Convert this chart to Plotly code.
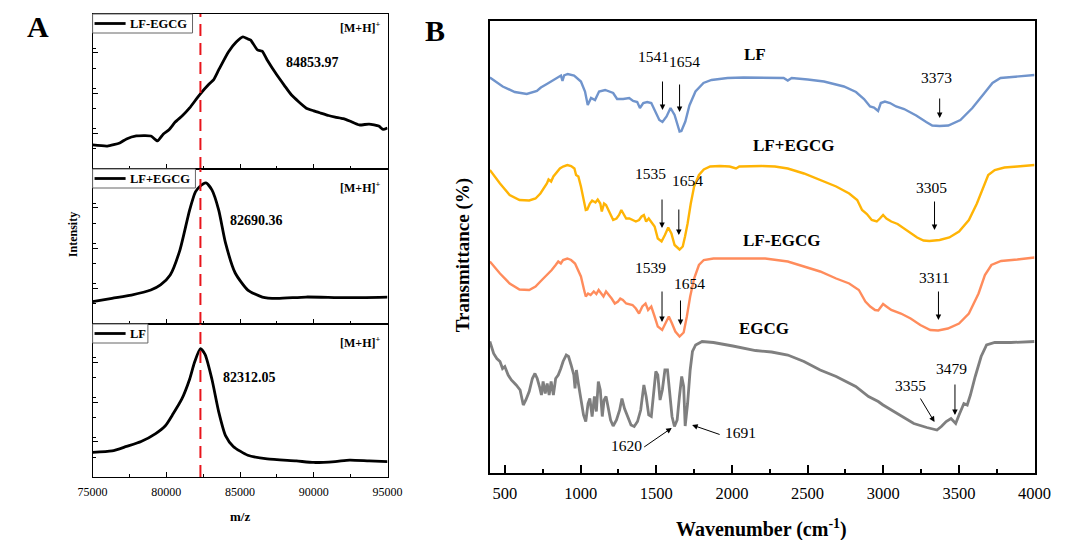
import plotly.graph_objects as go

# ---------------- Panel A data (MALDI-TOF) ----------------
MZ_LF_EGCG = [75000, 76000, 76840, 77300, 77960, 78950, 79400, 79800, 80200, 80600, 81100, 81580, 82240, 82900,
              83200, 83550, 84210, 84740, 85200, 85500, 85720, 86180, 86500, 86840, 87500, 88000, 88490, 89470,
              90000, 90460, 91000, 91450, 92000, 92430, 93090, 93750, 94410, 94700, 95000]
INT_LF_EGCG = [0.155, 0.148, 0.168, 0.194, 0.213, 0.213, 0.181, 0.226, 0.255, 0.303, 0.345, 0.394, 0.477, 0.548,
               0.575, 0.639, 0.755, 0.819, 0.852, 0.840, 0.832, 0.768, 0.760, 0.703, 0.606, 0.540, 0.477, 0.394,
               0.375, 0.361, 0.345, 0.335, 0.325, 0.310, 0.284, 0.290, 0.277, 0.255, 0.265]

MZ_LF_P_EGCG = [75000, 76316, 77632, 78947, 79605, 80263, 80921, 81579, 81974, 82237, 82690, 83092, 83553,
                84013, 84671, 85526, 86513, 87500, 89474, 92105, 95000]
INT_LF_P_EGCG = [0.144, 0.166, 0.187, 0.219, 0.252, 0.316, 0.477, 0.735, 0.852, 0.884, 0.910, 0.865, 0.735,
                 0.523, 0.329, 0.219, 0.174, 0.165, 0.174, 0.170, 0.174]

MZ_LF = [75000, 76316, 77303, 78289, 79276, 79934, 80461, 81053, 81579, 81908, 82312, 82632, 83092, 83553,
         84013, 84539, 85526, 86842, 88816, 90000, 91447, 92434, 93750, 95000]
INT_LF = [0.161, 0.170, 0.200, 0.232, 0.284, 0.335, 0.413, 0.510, 0.639, 0.748, 0.839, 0.800, 0.639, 0.426,
          0.271, 0.200, 0.142, 0.118, 0.105, 0.095, 0.101, 0.110, 0.105, 0.101]

REF_MZ = [82312]
PEAK_LABELS = ["84853.97", "82690.36", "82312.05"]
A_NAMES = ["LF-EGCG", "LF+EGCG", "LF"]
A_TICKS = [75000, 80000, 85000, 90000, 95000]

# ---------------- Panel B data (FTIR) ----------------
LF_WN = [400, 485, 565, 644, 711, 737, 777, 830, 870, 880, 891, 915, 957, 1002, 1029, 1047, 1069, 1095, 1122,
         1162, 1188, 1215, 1241, 1281, 1321, 1347, 1374, 1392, 1414, 1440, 1467, 1493, 1520, 1541, 1568, 1594,
         1621, 1654, 1666, 1692, 1719, 1759, 1812, 1865, 1971, 2077, 2236, 2342, 2369, 2395, 2501, 2608, 2740,
         2820, 2873, 2913, 2939, 2966, 2984, 3011, 3045, 3085, 3138, 3218, 3284, 3324, 3373, 3430, 3510, 3589,
         3669, 3722, 3775, 3881, 4000]
LF_T = [84.5, 82.7, 81.6, 81.2, 81.8, 82.5, 83.2, 84.2, 84.9, 83.8, 84.9, 85.2, 84.9, 83.7, 81.7, 79.0, 80.4,
        80.0, 81.7, 82.0, 81.7, 81.4, 80.2, 80.2, 80.4, 79.8, 79.6, 78.4, 79.4, 79.6, 79.4, 77.7, 76.0, 75.6,
        76.7, 78.4, 77.0, 73.7, 73.8, 75.7, 78.9, 81.7, 83.4, 84.0, 84.4, 84.5, 84.5, 84.4, 83.9, 84.4, 84.1,
        83.7, 82.7, 81.6, 80.2, 78.7, 78.5, 77.8, 79.4, 79.7, 79.4, 78.7, 78.2, 76.9, 75.6, 74.9, 74.8, 74.9,
        76.0, 78.4, 81.4, 83.4, 84.4, 84.7, 85.0]

LFP_WN = [400, 467, 531, 596, 660, 702, 734, 756, 777, 788, 805, 820, 848, 863, 884, 912, 937, 959, 970, 985,
          1002, 1019, 1034, 1044, 1061, 1076, 1098, 1113, 1130, 1140, 1155, 1168, 1183, 1198, 1215, 1237, 1254,
          1269, 1284, 1301, 1322, 1343, 1365, 1386, 1403, 1418, 1433, 1450, 1467, 1489, 1510, 1535, 1557, 1579,
          1600, 1621, 1654, 1675, 1690, 1707, 1728, 1750, 1782, 1814, 1856, 1920, 1985, 2027, 2049, 2113, 2198,
          2284, 2369, 2476, 2583, 2689, 2775, 2828, 2860, 2892, 2924, 2957, 2978, 2999, 3021, 3053, 3095, 3138,
          3181, 3224, 3266, 3305, 3373, 3437, 3501, 3566, 3619, 3662, 3694, 3737, 3801, 3886, 4000]
LFP_T = [66.0, 63.3, 61.0, 60.0, 59.9, 60.3, 61.3, 62.3, 63.3, 64.1, 63.7, 64.7, 65.7, 66.3, 66.7, 67.0, 66.8,
         66.3, 65.0, 64.7, 62.7, 60.0, 58.0, 58.1, 59.3, 59.9, 59.5, 60.1, 59.3, 57.7, 59.3, 59.0, 58.0, 57.0,
         56.0, 56.3, 57.0, 58.0, 57.3, 56.3, 56.3, 56.0, 55.7, 56.0, 56.7, 57.0, 55.7, 56.3, 55.7, 54.7, 52.3,
         51.7, 53.0, 54.5, 53.3, 51.0, 50.1, 50.7, 52.7, 55.3, 59.3, 62.7, 65.0, 66.1, 66.7, 66.8, 66.7, 66.3,
         66.7, 66.8, 66.8, 66.7, 66.3, 65.3, 64.0, 62.7, 61.3, 60.0, 58.0, 57.2, 56.0, 55.7, 56.3, 57.0, 56.3,
         55.7, 55.2, 54.3, 53.3, 52.5, 51.9, 51.8, 52.0, 52.5, 53.7, 56.0, 59.3, 62.7, 65.0, 66.0, 66.5, 66.7,
         67.0]

LFM_WN = [400, 467, 531, 596, 660, 702, 734, 766, 792, 809, 835, 852, 869, 884, 912, 937, 963, 980, 1002, 1023,
          1034, 1049, 1066, 1087, 1104, 1119, 1134, 1151, 1168, 1183, 1205, 1226, 1247, 1262, 1279, 1301, 1322,
          1343, 1365, 1386, 1408, 1429, 1446, 1467, 1489, 1510, 1539, 1561, 1583, 1604, 1626, 1654, 1681, 1702,
          1724, 1750, 1782, 1814, 1878, 1963, 2091, 2220, 2369, 2476, 2583, 2689, 2775, 2839, 2882, 2914, 2946,
          2967, 2999, 3021, 3053, 3117, 3181, 3245, 3311, 3363, 3427, 3501, 3566, 3630, 3672, 3715, 3779, 3886,
          4000]
LFM_T = [47.7, 45.3, 43.3, 42.1, 42.0, 42.7, 43.7, 44.7, 45.3, 46.0, 47.0, 47.7, 47.3, 48.0, 48.3, 48.0, 47.3,
         46.3, 44.7, 42.0, 40.7, 41.3, 41.0, 41.7, 41.2, 42.0, 41.3, 40.7, 41.7, 41.2, 40.3, 39.3, 39.7, 40.3,
         40.0, 39.3, 39.2, 39.0, 38.3, 37.3, 38.7, 39.3, 38.0, 38.7, 36.7, 34.7, 34.0, 35.3, 36.7, 35.3, 33.7,
         32.7, 33.5, 36.7, 40.7, 44.3, 47.0, 48.0, 48.3, 48.3, 48.3, 48.3, 47.7, 46.7, 45.7, 44.3, 43.3, 42.0,
         39.7, 38.7, 38.0, 37.9, 39.2, 38.7, 38.0, 37.3, 36.3, 35.0, 34.0, 33.9, 34.3, 35.3, 37.3, 41.3, 45.0,
         47.0, 47.8, 48.1, 48.5]

EG_WN = [400, 425, 446, 467, 484, 499, 521, 542, 574, 600, 621, 638, 660, 681, 698, 713, 728, 741, 752, 766, 779,
         792, 805, 820, 835, 852, 869, 884, 905, 920, 937, 955, 963, 972, 985, 1002, 1019, 1034, 1049, 1061,
         1076, 1091, 1104, 1117, 1130, 1143, 1155, 1168, 1183, 1198, 1215, 1237, 1258, 1273, 1290, 1311, 1333,
         1354, 1376, 1397, 1418, 1433, 1450, 1467, 1482, 1497, 1510, 1525, 1540, 1557, 1574, 1589, 1604, 1620,
         1638, 1653, 1668, 1681, 1691, 1707, 1724, 1739, 1760, 1803, 1878, 2006, 2156, 2262, 2369, 2476, 2583,
         2689, 2818, 2903, 2967, 2999, 3053, 3117, 3202, 3288, 3355, 3384, 3416, 3448, 3463, 3479, 3501, 3533,
         3555, 3576, 3608, 3647, 3683, 3737, 3843, 4000]
EG_T = [31.7, 29.3, 28.3, 27.7, 26.3, 26.7, 25.0, 24.0, 23.0, 22.0, 19.0, 20.0, 21.7, 24.3, 25.3, 24.3, 22.7,
        21.0, 23.7, 21.3, 23.3, 21.0, 23.7, 21.0, 24.3, 25.0, 26.3, 27.7, 29.0, 28.7, 27.0, 25.0, 22.3, 26.0,
        23.3, 20.0, 17.0, 15.7, 19.3, 20.3, 16.7, 20.7, 17.7, 23.7, 22.0, 16.7, 20.0, 20.7, 18.0, 16.0, 14.8,
        16.0, 18.0, 20.3, 18.3, 16.7, 15.0, 14.7, 15.7, 18.0, 23.0, 20.7, 17.0, 16.7, 20.7, 25.7, 25.0, 20.0,
        22.0, 26.0, 26.0, 22.0, 16.7, 14.7, 16.0, 20.7, 24.7, 22.7, 14.8, 19.3, 26.0, 29.7, 31.0, 31.7, 31.5,
        30.8, 29.9, 29.6, 29.0, 27.7, 26.0, 24.7, 22.7, 20.7, 19.7, 19.0, 18.0, 16.7, 15.3, 14.5, 14.0, 14.7,
        15.7, 16.3, 15.7, 15.3, 17.0, 19.3, 19.0, 21.0, 24.7, 28.7, 31.0, 31.5, 31.5, 31.7]

B_NAMES = ["LF", "LF+EGCG", "LF-EGCG", "EGCG"]
B_NAME_POS = [(2150, 89.0), (2410, 71.0), (2330, 52.0), (2210, 34.4)]
B_TICKS = [500, 1000, 1500, 2000, 2500, 3000, 3500, 4000]

# peak labels in panel B: (label, text_x, text_y)
B_PEAK_TEXT = [("1541", 1480, 88.6), ("1654", 1686, 87.6), ("3373", 3352, 84.4),
               ("1535", 1461, 65.4), ("1654", 1705, 64.0), ("3305", 3320, 62.6),
               ("1539", 1461, 46.6), ("1654", 1717, 43.4), ("3311", 3333, 44.6),
               ("1620", 1301, 11.0), ("1691", 2057, 13.6), ("3355", 3179, 23.0), ("3479", 3448, 26.4)]
# arrows: (head_x, head_y, tail dx px, tail dy px)
B_ARROWS = [(1541, 78.0, 0, -30), (1654, 77.6, 0, -29), (3373, 76.4, 0, -21),
            (1538, 54.4, 0, -30), (1649, 53.0, 0, -27), (3339, 54.0, 0, -30),
            (1538, 35.6, 0, -32), (1660, 35.0, 0, -26), (3365, 36.0, 0, -30),
            (1602, 14.4, -29, 20), (1737, 15.0, 29, 10), (3339, 15.6, -15, -25), (3474, 17.0, 0, -32)]

B_COLORS = ["#7094CC", "#FFB405", "#FF8C5C", "#7F7F7F"]
SERIF = "Liberation Serif, Times New Roman, serif"

W, H = 1069, 540
def px(x):
    return x / W
def py(y):
    return 1 - y / H

fig = go.Figure()

# ---- Panel A ----
A_X = [px(80), px(384)]
A_TOPS = [14, 169, 324]
A_Y = [(py(169), py(14)), (py(324), py(169)), (py(477), py(324))]
A_LEG_W = [103, 106, 57]
a_series = [(MZ_LF_EGCG, INT_LF_EGCG), (MZ_LF_P_EGCG, INT_LF_P_EGCG), (MZ_LF, INT_LF)]
for i, (mz, it) in enumerate(a_series):
    sx = "" if i == 0 else str(i + 1)
    fig.add_trace(go.Scatter(x=mz, y=it, mode="lines", name=A_NAMES[i],
                             line=dict(color="black", width=2.8, shape="spline", smoothing=0.5 if i == 0 else 0.6),
                             xaxis="x" + sx, yaxis="y" + sx, showlegend=False))

# ---- Panel B ----
b_series = [(LF_WN, LF_T), (LFP_WN, LFP_T), (LFM_WN, LFM_T), (EG_WN, EG_T)]
for i, (wn, t) in enumerate(b_series):
    fig.add_trace(go.Scatter(x=wn, y=t, mode="lines", name=B_NAMES[i],
                             line=dict(color=B_COLORS[i], width=2.8 if i == 3 else 2.4),
                             xaxis="x4", yaxis="y4", showlegend=False))

axis_common = dict(showline=True, linecolor="black", mirror=True, showgrid=False, zeroline=False)
layout = dict(width=W, height=H, margin=dict(l=0, r=0, t=0, b=0), paper_bgcolor="white", plot_bgcolor="white",
              font=dict(family=SERIF, color="black"), showlegend=False)
for i in range(3):
    sx = "" if i == 0 else str(i + 1)
    layout["xaxis" + sx] = dict(axis_common, domain=A_X, range=[75000, 95000], anchor="y" + sx,
                                tickvals=A_TICKS, tickformat="d", ticks="inside", ticklen=5, tickcolor="black",
                                linewidth=1.3, showticklabels=(i == 2), ticklabelstandoff=3,
                                tickfont=dict(size=12, family=SERIF),
                                minor=dict(dtick=2500, tick0=75000, ticks="inside", ticklen=3, tickcolor="black"))
    layout["yaxis" + sx] = dict(axis_common, domain=list(A_Y[i]), range=[0, 1], anchor="x" + sx,
                                ticks="inside", ticklen=5, tick0=-0.03, dtick=0.26, tickcolor="black",
                                linewidth=1.3, showticklabels=False,
                                minor=dict(dtick=0.13, ticks="inside", ticklen=3, tickcolor="black"))

B_TOP, B_BOT = 21, 473
layout["xaxis4"] = dict(axis_common, domain=[px(489.5), px(1051)], range=[400, 4000], anchor="y4",
                        tickvals=B_TICKS, ticks="inside", ticklen=8, tickwidth=1.5, tickcolor="black",
                        linewidth=2, tickfont=dict(size=16.5, family=SERIF), ticklabelstandoff=4,
                        minor=dict(dtick=250, tick0=500, ticks="inside", ticklen=4, tickwidth=1.5, tickcolor="black"))
layout["yaxis4"] = dict(axis_common, domain=[py(B_BOT), py(B_TOP)], range=[100 - B_BOT / 5, 100 - B_TOP / 5],
                        anchor="x4", showticklabels=False, ticks="", linewidth=2)
fig.update_layout(**layout)

def txt(text, x, y, size, angle=0, xanchor="center", xref="paper", yref="paper"):
    return dict(text=text, x=x, y=y, xref=xref, yref=yref, showarrow=False, textangle=angle,
                xanchor=xanchor, yanchor="middle", font=dict(size=size, family=SERIF, color="black"))

ann = []
ann.append(txt("<b>A</b>", px(24), py(26), 30))
ann.append(txt("<b>B</b>", px(433), py(30), 30))
ann.append(txt("<b>Intensity</b>", px(60), py(235), 12, angle=-90))
ann.append(txt("<b>m/z</b>", px(232), py(516), 13))

shapes = []
peak_pos = [(307, 62), (249, 221), (242, 377)]
mh_y = [27, 187, 342]
for i in range(3):
    top = A_TOPS[i]
    ann.append(txt("<b>[M+H]<sup>+</sup></b>", px(356), py(mh_y[i]), 12))
    ann.append(txt("<b>" + PEAK_LABELS[i] + "</b>", px(peak_pos[i][0]), py(peak_pos[i][1]), 14))
    # legend box
    shapes.append(dict(type="rect", xref="paper", yref="paper", x0=px(80), x1=px(80 + A_LEG_W[i]),
                       y0=py(top + 19), y1=py(top), line=dict(color="#666", width=1), fillcolor="white",
                       layer="above"))
    shapes.append(dict(type="line", xref="paper", yref="paper", x0=px(82), x1=px(114),
                       y0=py(top + 9.5), y1=py(top + 9.5), line=dict(color="black", width=2.8), layer="above"))
    ann.append(txt("<b>" + A_NAMES[i] + "</b>", px(116.5), py(top + 10), 12.5, xanchor="left"))

ann.append(txt("<b>Transmittance (%)</b>", px(462), py(255), 19, angle=-90))
ann.append(txt("<b>Wavenumber (cm<sup>-1</sup>)</b>", px(770), py(528), 20))
for name, (xx, yy) in zip(B_NAMES, B_NAME_POS):
    ann.append(txt("<b>" + name + "</b>", xx, yy, 17, xref="x4", yref="y4"))
for lab, xx, yy in B_PEAK_TEXT:
    ann.append(txt(lab, xx, yy, 15.5, xref="x4", yref="y4"))
for hx, hy, dx, dy in B_ARROWS:
    ann.append(dict(text="", x=hx, y=hy, xref="x4", yref="y4", ax=dx, ay=dy, showarrow=True,
                    arrowhead=2, arrowsize=1.1, arrowwidth=1, arrowcolor="black"))
fig.update_layout(annotations=ann, shapes=shapes)

# red dashed reference line through all of panel A
for i in range(3):
    sx = "" if i == 0 else str(i + 1)
    fig.add_trace(go.Scatter(x=REF_MZ * 2, y=[0, 1], mode="lines", showlegend=False,
                             line=dict(color="#E8141B", width=2, dash="12px,7px"),
                             xaxis="x" + sx, yaxis="y" + sx))

fig.write_html("out.html")
